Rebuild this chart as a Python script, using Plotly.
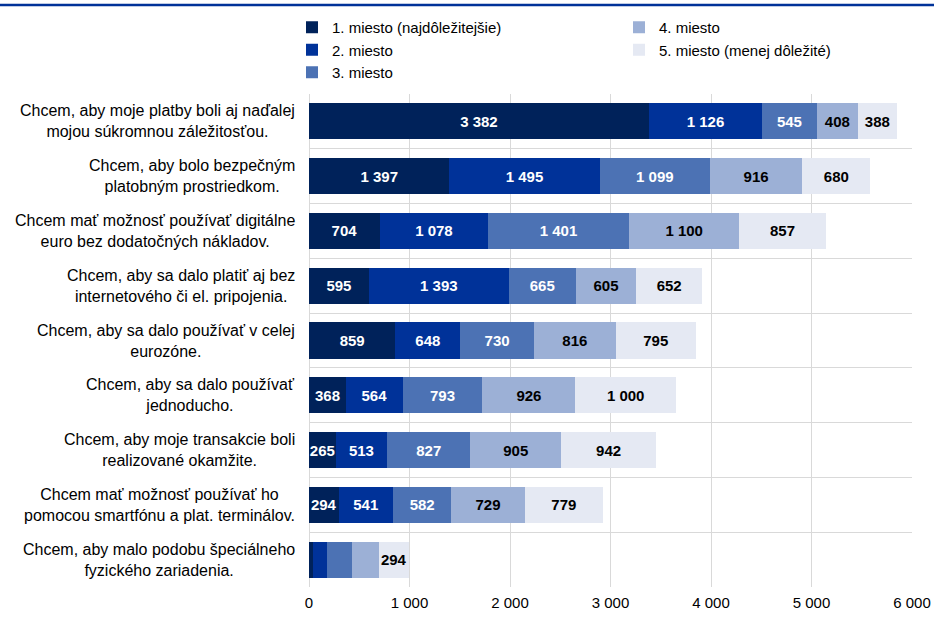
import plotly.graph_objects as go

categories = [
    "Chcem, aby moje platby boli aj naďalej<br>mojou súkromnou záležitosťou.",
    "Chcem, aby bolo bezpečným<br>platobným prostriedkom.",
    "Chcem mať možnosť používať digitálne<br>euro bez dodatočných nákladov.",
    "Chcem, aby sa dalo platiť aj bez<br>internetového či el. pripojenia.",
    "Chcem, aby sa dalo používať v celej<br>eurozóne.",
    "Chcem, aby sa dalo používať<br>jednoducho.",
    "Chcem, aby moje transakcie boli<br>realizované okamžite.",
    "Chcem mať možnosť používať ho<br>pomocou smartfónu a plat. terminálov.",
    "Chcem, aby malo podobu špeciálneho<br>fyzického zariadenia.",
]

series_names = [
    "1. miesto (najdôležitejšie)",
    "2. miesto",
    "3. miesto",
    "4. miesto",
    "5. miesto (menej dôležité)",
]

place1 = [3382, 1397, 704, 595, 859, 368, 265, 294, 43]
place2 = [1126, 1495, 1078, 1393, 648, 564, 513, 541, 133]
place3 = [545, 1099, 1401, 665, 730, 793, 827, 582, 255]
place4 = [408, 916, 1100, 605, 816, 926, 905, 729, 265]
place5 = [388, 680, 857, 652, 795, 1000, 942, 779, 294]

# labels not shown in the reference (last category, places 1-4)
hidden_labels = {(8, 0), (8, 1), (8, 2), (8, 3)}

x_ticks = [0, 1000, 2000, 3000, 4000, 5000, 6000]

colors = ["#00225a", "#003299", "#4c72b4", "#9cb0d6", "#e5e9f3"]
text_colors = ["white", "white", "white", "black", "black"]
legend_ids = ["legend", "legend", "legend", "legend2", "legend2"]

FONT = "Liberation Sans, Arial, sans-serif"

fig = go.Figure()
all_series = [place1, place2, place3, place4, place5]
for s, vals in enumerate(all_series):
    texts = []
    for i, v in enumerate(vals):
        if (i, s) in hidden_labels:
            texts.append("")
        else:
            texts.append(f"{v:,}".replace(",", " "))
    fig.add_trace(go.Bar(
        y=categories,
        x=vals,
        name=series_names[s],
        orientation="h",
        marker=dict(color=colors[s], line=dict(width=0)),
        text=texts,
        textposition="inside",
        insidetextanchor="middle",
        textangle=0,
        constraintext="none",
        textfont=dict(family=FONT, size=15, color=text_colors[s], weight="bold"),
        legend=legend_ids[s],
        hoverinfo="skip",
    ))

L, R, T, B = 309, 22, 94, 40
W, H = 934, 627
pw = W - L - R
ph = H - T - B

annotations = []
for c in categories:
    annotations.append(dict(
        x=-12 / pw, xref="paper", xanchor="right",
        y=c, yref="y", yanchor="middle",
        text=c, showarrow=False, align="center",
        font=dict(family=FONT, size=16, color="black"),
    ))

legend_common = dict(
    yanchor="top", y=1 + (T - 11) / ph,
    orientation="v", traceorder="normal",
    bgcolor="rgba(0,0,0,0)",
    font=dict(family=FONT, size=15, color="black"),
    tracegroupgap=0,
)

fig.update_layout(
    width=W, height=H,
    margin=dict(l=L, r=R, t=T, b=B, autoexpand=False),
    barmode="stack",
    bargap=0.34,
    plot_bgcolor="white",
    paper_bgcolor="white",
    separators=", ",
    font=dict(family=FONT, size=15, color="black"),
    showlegend=True,
    legend=dict(x=(292 - L) / pw, xanchor="left", **legend_common),
    legend2=dict(x=(619 - L) / pw, xanchor="left", **legend_common),
    xaxis=dict(
        range=[0, 6000],
        tickvals=x_ticks,
        tickformat=",d",
        showgrid=True, gridcolor="#d9d9d9", gridwidth=1,
        zeroline=True, zerolinecolor="#d9d9d9", zerolinewidth=1,
        showline=False,
        ticks="",
        ticklabelstandoff=5,
        automargin=False,
        tickfont=dict(family=FONT, size=15, color="black"),
    ),
    yaxis=dict(
        type="category",
        autorange="reversed",
        showticklabels=False,
        tickson="boundaries",
        showgrid=True, gridcolor="#d9d9d9", gridwidth=1,
        ticks="",
        showline=False,
        automargin=False,
    ),
    annotations=annotations,
    shapes=[dict(
        type="line", xref="paper", yref="paper",
        x0=-L / pw, x1=1 + R / pw,
        y0=1 + (T - 5) / ph, y1=1 + (T - 5) / ph,
        line=dict(color="#003299", width=2.5),
    )],
)

fig.write_html("out.html")
